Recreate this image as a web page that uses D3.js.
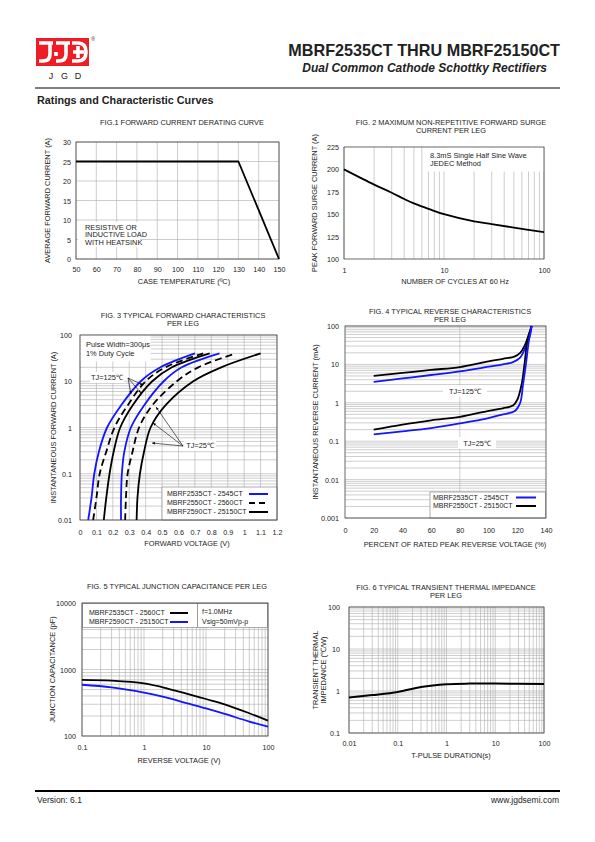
<!DOCTYPE html>
<html><head><meta charset="utf-8">
<script src="https://cdn.jsdelivr.net/npm/d3@7"></script>
<style>
body{margin:0;background:#fff}
svg{display:block}
text{font-family:"Liberation Sans",Arial,Helvetica,sans-serif;fill:#222}
</style>
</head><body>
<svg id="c" width="595" height="842"></svg>
<script>
// ---------------- DATA ----------------
// Fig.1 derating
const fig1Temp = [50, 130, 150];
const fig1Current = [25, 25, 0];
const fig1XTicks = [50,60,70,80,90,100,110,120,130,140,150];
const fig1YTicks = [0,5,10,15,20,25,30];

// Fig.2 surge
const fig2Cycles = [1,2,3,4,5,7,10,20,30,50,100];
const fig2Surge  = [200,183,174,167,162,156,150,142,139,135,130];
const fig2XTicks = [1,10,100];
const fig2YTicks = [100,125,150,175,200,225];

// Fig.3 forward characteristics (current levels, voltages per series)
const fig3Current = [0.01,0.03,0.1,0.3,1,3,10,20,40];
const fig3Blue125   = [0.05,0.07,0.087,0.115,0.165,0.25,0.37,0.49,0.70];
const fig3Dash125   = [0.08,0.10,0.12,0.16,0.21,0.29,0.40,0.52,0.75];
const fig3Black125  = [0.145,0.16,0.18,0.205,0.245,0.32,0.44,0.56,0.79];
const fig3Blue25    = [0.25,0.25,0.255,0.27,0.31,0.39,0.51,0.62,0.85];
const fig3Dash25    = [0.275,0.28,0.29,0.32,0.36,0.44,0.59,0.72,0.95];
const fig3Black25   = [0.345,0.35,0.365,0.39,0.43,0.52,0.69,0.86,1.10];
const fig3XTicks = [0,0.1,0.2,0.3,0.4,0.5,0.6,0.7,0.8,0.9,1,1.1,1.2];
const fig3YTicks = [0.01,0.1,1,10,100];
const fig3Legend = ["MBRF2535CT - 2545CT","MBRF2550CT - 2560CT","MBRF2590CT - 25150CT"];

// Fig.4 reverse characteristics
const fig4Pct125 = [20,40,60,80,100,110,118,122,125,128,130];
const fig4Black125 = [5,6,7.2,8.5,12,14,16,20,30,60,100];
const fig4Pct125b = [20,40,60,80,100,110,117,122,126,129,130];
const fig4Blue125 = [3.5,4.3,5.3,6.6,8.7,10,11.5,15,30,60,100];
const fig4Pct25 = [20,40,60,80,100,110,117,120,123,125,127,130];
const fig4Black25 = [0.2,0.27,0.35,0.43,0.62,0.72,0.85,1.2,3,10,40,100];
const fig4Pct25b = [20,40,60,80,100,110,118,122,124,126,128,130];
const fig4Blue25 = [0.15,0.18,0.22,0.29,0.4,0.5,0.6,1.0,3,10,40,100];
const fig4XTicks = [0,20,40,60,80,100,120,140];
const fig4YTicks = [0.001,0.01,0.1,1,10,100];
const fig4Legend = ["MBRF2535CT - 2545CT","MBRF2550CT - 25150CT"];

// Fig.5 junction capacitance
const fig5Volt = [0.1,0.3,1,2,5,10,20,50,100];
const fig5Black = [700,680,620,540,430,360,300,220,170];
const fig5Blue  = [590,540,450,390,310,260,215,165,138];
const fig5XTicks = [0.1,1,10,100];
const fig5YTicks = [100,1000,10000];
const fig5Legend = ["MBRF2535CT - 2560CT","MBRF2590CT - 25150CT"];

// Fig.6 transient thermal impedance
const fig6Time = [0.01,0.03,0.1,0.3,1,3,10,100];
const fig6Z = [0.7,0.8,0.95,1.25,1.45,1.5,1.5,1.47];
const fig6XTicks = [0.01,0.1,1,10,100];
const fig6YTicks = [0.1,1,10,100];

// ---------------- DRAW ----------------
const svg = d3.select("#c");
const BLUE = "#1414ff";
const GRID = "#adadad";
const FRAME = "#444";
const FS = 7.4;   // titles
const TS = 7.2;   // tick labels
const LS = 7;     // legend text

const defs = svg.append("defs");
defs.append("marker").attr("id","ah").attr("viewBox","0 0 10 10").attr("refX",10).attr("refY",5)
  .attr("markerWidth",5).attr("markerHeight",5).attr("orient","auto")
  .append("path").attr("d","M0,1 L10,5 L0,9 Z").attr("fill","#000");

function logGrid(lo, hi){
  const out=[];
  for(let e=Math.floor(Math.log10(lo)); e<=Math.ceil(Math.log10(hi)); e++){
    for(let k=1;k<=9;k++){const v=+(k*Math.pow(10,e)).toPrecision(3); if(v>=lo-1e-12 && v<=hi+1e-12) out.push(v);}
  }
  return out;
}
function text(g,x,y,s,opts={}){
  return g.append("text").attr("x",x).attr("y",y).attr("dy","0.35em")
    .attr("text-anchor",opts.anchor||"middle").attr("font-size",opts.size||FS)
    .attr("font-weight",opts.weight||null).attr("font-style",opts.style||null)
    .attr("fill",opts.fill||"#222").text(s);
}
function panel(o){
  const g = svg.append("g");
  const [x0,x1] = o.x.range(), [y0,y1] = o.y.range(); // y0 bottom, y1 top
  (o.vGrid||[]).forEach(v=>g.append("line").attr("x1",o.x(v)).attr("x2",o.x(v)).attr("y1",y0).attr("y2",y1)
     .attr("stroke",GRID).attr("stroke-width",0.6));
  (o.hGrid||[]).forEach(v=>g.append("line").attr("y1",o.y(v)).attr("y2",o.y(v)).attr("x1",x0).attr("x2",x1)
     .attr("stroke",GRID).attr("stroke-width",0.6));
  const ax = g.append("g").attr("transform",`translate(0,${o.xLabelY})`)
     .call(d3.axisBottom(o.x).tickValues(o.xTicks).tickSize(0).tickPadding(0).tickFormat(o.xFmt||(d=>d)));
  ax.select(".domain").remove();
  ax.selectAll("text").attr("dy","0.35em").attr("font-size",TS).attr("font-family",null).attr("fill","#222");
  const ay = g.append("g").attr("transform",`translate(${o.yLabelX},0)`)
     .call(d3.axisLeft(o.y).tickValues(o.yTicks).tickSize(0).tickPadding(0).tickFormat(o.yFmt||(d=>d)));
  ay.select(".domain").remove();
  ay.selectAll("text").attr("dy","0.35em").attr("font-size",TS).attr("font-family",null).attr("fill","#222");
  o.title.forEach((t,i)=>text(g,o.titleX,o.titleY+i*8.3,t));
  text(g,o.xTitleX,o.xTitleY,o.xTitle);
  o.yTitle.forEach((t,i)=>{
    const yc=(y0+y1)/2+(o.yTitleDy||0);
    g.append("text").attr("transform",`translate(${o.yTitleX+i*8},${yc}) rotate(-90)`)
     .attr("dy","0.35em").attr("text-anchor","middle").attr("font-size",FS).attr("fill","#222").text(t);
  });
  g.frameDraw = ()=>g.append("rect").attr("x",x0).attr("y",y1).attr("width",x1-x0).attr("height",y0-y1)
     .attr("fill","none").attr("stroke",FRAME).attr("stroke-width",0.8);
  return g;
}
function curve(g, xs, ys, xv, yv, color, opts={}){
  const pts = xv.map((v,i)=>[xs(v), ys(yv[i])]);
  g.append("path").attr("d", d3.line().curve(opts.curve||d3.curveCatmullRom.alpha(0.5))(pts))
   .attr("fill","none").attr("stroke",color).attr("stroke-width",opts.w||1.8)
   .attr("stroke-dasharray",opts.dash||null).attr("stroke-linejoin","round");
}
function whiteBox(g,x,y,w,h,stroke){
  g.append("rect").attr("x",x).attr("y",y).attr("width",w).attr("height",h).attr("fill","#fff")
   .attr("stroke",stroke?"#777":"none").attr("stroke-width",0.6);
}

// ---------- Header ----------
const hdr = svg.append("g");
hdr.append("rect").attr("x",36).attr("y",38).attr("width",53).attr("height",28).attr("fill","#ee1c25");
const logoPaths = [
  "M39,43 H53 M50,43 V54 Q50,61 43,61 H39",
  "M56,43 H70 M66,43 V54 Q66,61 59,61 H56 M56,52 V56",
  "M72,43 H78 Q86,43 86,52 Q86,61 78,61 H72 M78,46 V58 M73,52 H84"
];
logoPaths.forEach(d=>hdr.append("path").attr("d",d).attr("fill","none").attr("stroke","#fff").attr("stroke-width",3.6));
text(hdr,93,39,"®",{size:5,fill:"#ee1c25"});
[["J",51],["G",64.5],["D",78]].forEach(([t,x])=>text(hdr,x,76,t,{size:9,fill:"#ee1c25"}));
text(hdr,560,50,"MBRF2535CT THRU MBRF25150CT",{anchor:"end",size:16.2,weight:"bold",fill:"#000"});
text(hdr,547,68,"Dual Common Cathode Schottky Rectifiers",{anchor:"end",size:12,weight:"bold",style:"italic",fill:"#000"});
hdr.append("line").attr("x1",35).attr("x2",560).attr("y1",88).attr("y2",88).attr("stroke","#000").attr("stroke-width",1);
text(hdr,37,100,"Ratings and Characteristic Curves",{anchor:"start",size:10.8,weight:"bold",fill:"#000"});
hdr.append("line").attr("x1",35).attr("x2",560).attr("y1",791).attr("y2",791).attr("stroke","#000").attr("stroke-width",2);
text(hdr,37,800,"Version: 6.1",{anchor:"start",size:8.5,fill:"#000"});
text(hdr,559,800,"www.jgdsemi.com",{anchor:"end",size:8.5,fill:"#000"});

// ---------- Fig 1 ----------
{
  const x=d3.scaleLinear().domain([50,150]).range([76,279]);
  const y=d3.scaleLinear().domain([0,30]).range([259,142]);
  const g=panel({x,y,vGrid:fig1XTicks,hGrid:fig1YTicks,xTicks:fig1XTicks,yTicks:fig1YTicks,
    xLabelY:269,yLabelX:71,title:["FIG.1 FORWARD CURRENT DERATING CURVE"],titleX:182,titleY:122,
    xTitle:"CASE TEMPERATURE (ºC)",xTitleX:184,xTitleY:281,yTitle:["AVERAGE FORWARD CURRENT (A)"],yTitleX:47});
  whiteBox(g,78,222,62,25);
  ["RESISTIVE OR","INDUCTIVE LOAD","WITH HEATSINK"].forEach((t,i)=>text(g,85,227+i*7.6,t,{anchor:"start"}));
  g.frameDraw();
  curve(g,x,y,fig1Temp,fig1Current,"#000",{curve:d3.curveLinear,w:1.8});
}
// ---------- Fig 2 ----------
{
  const x=d3.scaleLog().domain([1,100]).range([344,544]);
  const y=d3.scaleLinear().domain([100,225]).range([259,147]);
  const g=panel({x,y,vGrid:logGrid(1,100),hGrid:[],xTicks:fig2XTicks,yTicks:fig2YTicks,
    xLabelY:270,yLabelX:339,title:["FIG. 2 MAXIMUM  NON-REPETITIVE FORWARD SURGE","CURRENT PER LEG"],titleX:451,titleY:122,
    xTitle:"NUMBER OF CYCLES AT 60 Hz",xTitleX:455,xTitleY:281,yTitle:["PEAK FORWARD SURGE CURRENT (A)"],yTitleX:314});
  whiteBox(g,424,147.5,120,24);
  text(g,430,155,"8.3mS Single Half Sine Wave",{anchor:"start"});
  text(g,430,163,"JEDEC Method",{anchor:"start"});
  g.frameDraw();
  curve(g,x,y,fig2Cycles,fig2Surge,"#000",{w:1.8});
}
// ---------- Fig 3 ----------
{
  const x=d3.scaleLinear().domain([0,1.2]).range([80,277]);
  const y=d3.scaleLog().domain([0.01,100]).range([520,335]);
  const g=panel({x,y,vGrid:fig3XTicks,hGrid:logGrid(0.01,100),xTicks:fig3XTicks,yTicks:fig3YTicks,
    xFmt:d=>String(+d.toFixed(1)),yFmt:d=>String(d),
    xLabelY:532,yLabelX:72,title:["FIG. 3 TYPICAL FORWARD CHARACTERISTICS","PER LEG"],titleX:183,titleY:315,
    xTitle:"FORWARD VOLTAGE (V)",xTitleX:187,xTitleY:543,yTitle:["INSTANTANEOUS FORWARD CURRENT (A)"],yTitleX:53});
  whiteBox(g,80.5,335.5,70,26);
  text(g,86,344,"Pulse Width=300μs",{anchor:"start"});
  text(g,86,353,"1% Duty Cycle",{anchor:"start"});
  whiteBox(g,162,487,115,33,true);
  const ls=[{c:BLUE,d:null},{c:"#000",d:"6,4"},{c:"#000",d:null}];
  fig3Legend.forEach((t,i)=>{
    text(g,167,494+i*9,t,{anchor:"start",size:LS});
    g.append("line").attr("x1",249).attr("x2",268).attr("y1",494+i*9).attr("y2",494+i*9)
     .attr("stroke",ls[i].c).attr("stroke-width",2).attr("stroke-dasharray",ls[i].d);
  });
  g.frameDraw();
  curve(g,x,y,fig3Blue125,fig3Current,BLUE);
  curve(g,x,y,fig3Dash125,fig3Current,"#000",{dash:"7,4"});
  curve(g,x,y,fig3Black125,fig3Current,"#000");
  curve(g,x,y,fig3Blue25,fig3Current,BLUE);
  curve(g,x,y,fig3Dash25,fig3Current,"#000",{dash:"7,4"});
  curve(g,x,y,fig3Black25,fig3Current,"#000");
  whiteBox(g,90,372,34,11);
  text(g,107,377.5,"TJ=125℃");
  [[131,394],[143,385],[141,393]].forEach(([tx,ty])=>g.append("line").attr("x1",128).attr("y1",378)
     .attr("x2",tx).attr("y2",ty).attr("stroke","#000").attr("stroke-width",0.6).attr("marker-end","url(#ah)"));
  whiteBox(g,184,440,32,11);
  text(g,200,445,"TJ=25℃");
  [[156,407],[153,423],[152,443]].forEach(([tx,ty])=>g.append("line").attr("x1",183).attr("y1",446)
     .attr("x2",tx).attr("y2",ty).attr("stroke","#000").attr("stroke-width",0.6).attr("marker-end","url(#ah)"));
}
// ---------- Fig 4 ----------
{
  const x=d3.scaleLinear().domain([0,140]).range([345,546]);
  const y=d3.scaleLog().domain([0.001,100]).range([518,326]);
  const g=panel({x,y,vGrid:[80],hGrid:logGrid(0.001,100),xTicks:fig4XTicks,yTicks:fig4YTicks,yFmt:d=>String(d),
    xLabelY:530,yLabelX:339,title:["FIG. 4 TYPICAL REVERSE CHARACTERISTICS","PER LEG"],titleX:450,titleY:311,
    xTitle:"PERCENT OF RATED PEAK REVERSE VOLTAGE (%)",xTitleX:455,xTitleY:544,
    yTitle:["INSTANTANEOUS REVERSE CURRENT (mA)"],yTitleX:315});
  whiteBox(g,430,492,115.5,26,true);
  fig4Legend.forEach((t,i)=>{
    text(g,433,497.5+i*8.5,t,{anchor:"start",size:LS});
    g.append("line").attr("x1",516).attr("x2",536).attr("y1",497.5+i*8.5).attr("y2",497.5+i*8.5)
     .attr("stroke",i==0?BLUE:"#000").attr("stroke-width",2);
  });
  whiteBox(g,443,385,44,12);
  text(g,465,391,"TJ=125℃");
  whiteBox(g,458,437,38,12);
  text(g,477,443,"TJ=25℃");
  g.frameDraw();
  curve(g,x,y,fig4Pct125,fig4Black125,"#000");
  curve(g,x,y,fig4Pct125b,fig4Blue125,BLUE);
  curve(g,x,y,fig4Pct25,fig4Black25,"#000");
  curve(g,x,y,fig4Pct25b,fig4Blue25,BLUE);
}
// ---------- Fig 5 ----------
{
  const x=d3.scaleLog().domain([0.1,100]).range([82,268]);
  const y=d3.scaleLog().domain([100,10000]).range([736,603]);
  const g=panel({x,y,vGrid:logGrid(0.1,100),hGrid:logGrid(100,10000),xTicks:fig5XTicks,yTicks:fig5YTicks,
    xFmt:d=>String(d),yFmt:d=>String(d),
    xLabelY:747,yLabelX:76,title:["FIG. 5 TYPICAL JUNCTION CAPACITANCE PER LEG"],titleX:177,titleY:586,
    xTitle:"REVERSE VOLTAGE (V)",xTitleX:179,xTitleY:760,yTitle:["JUNCTION CAPACITANCE (pF)"],yTitleX:52});
  whiteBox(g,82.5,603.5,115,24,true);
  whiteBox(g,197.5,603.5,70,24,true);
  fig5Legend.forEach((t,i)=>{
    text(g,89,613+i*9,t,{anchor:"start",size:LS});
    g.append("line").attr("x1",170).attr("x2",188).attr("y1",613+i*9).attr("y2",613+i*9)
     .attr("stroke",i==0?"#000":BLUE).attr("stroke-width",2);
  });
  text(g,202,612,"f=1.0MHz",{anchor:"start",size:LS});
  text(g,202,621.5,"Vsig=50mVp-p",{anchor:"start",size:LS});
  g.frameDraw();
  curve(g,x,y,fig5Volt,fig5Black,"#000");
  curve(g,x,y,fig5Volt,fig5Blue,BLUE);
}
// ---------- Fig 6 ----------
{
  const x=d3.scaleLog().domain([0.01,100]).range([349,544]);
  const y=d3.scaleLog().domain([0.1,100]).range([733,607]);
  const g=panel({x,y,vGrid:logGrid(0.01,100),hGrid:logGrid(0.1,100),xTicks:fig6XTicks,yTicks:fig6YTicks,
    xFmt:d=>String(d),yFmt:d=>String(d),
    xLabelY:743,yLabelX:340,title:["FIG. 6 TYPICAL TRANSIENT THERMAL IMPEDANCE","PER LEG"],titleX:446,titleY:587,
    xTitle:"T-PULSE DURATION(s)",xTitleX:451,xTitleY:755,yTitle:["TRANSIENT THERMAL","IMPEDANCE (℃/W)"],yTitleX:315});
  g.frameDraw();
  curve(g,x,y,fig6Time,fig6Z,"#000",{w:2});
}
</script>
</body></html>
